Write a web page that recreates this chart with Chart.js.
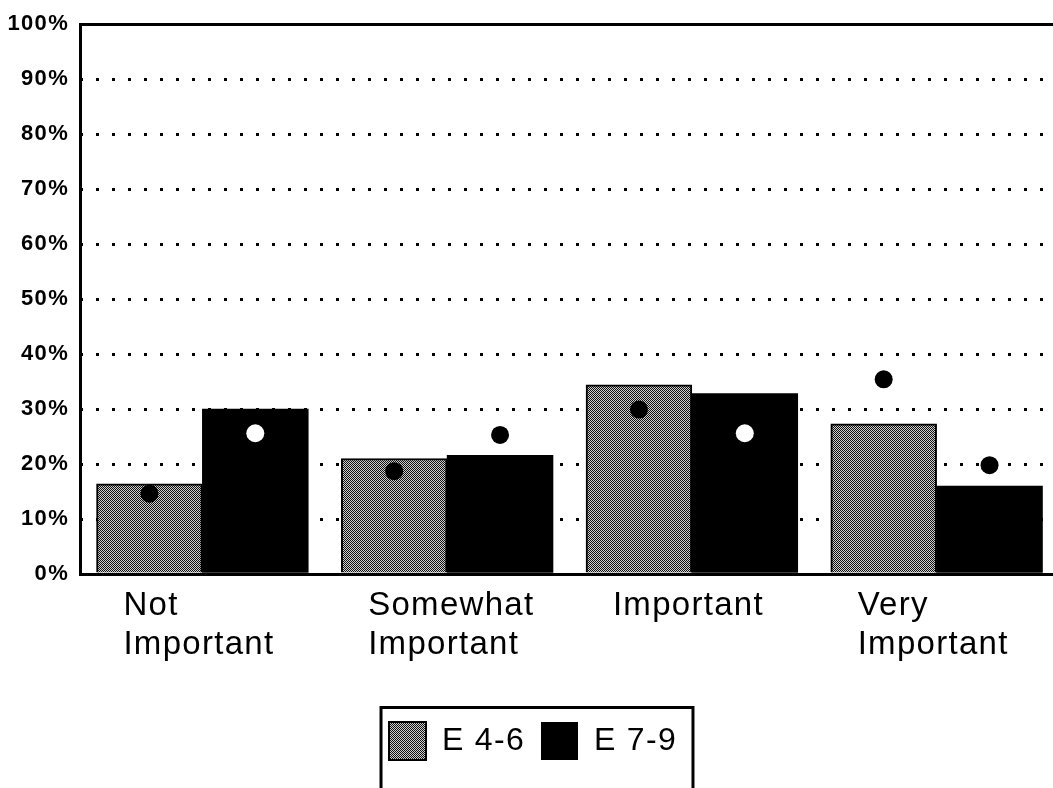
<!DOCTYPE html>
<html>
<head>
<meta charset="utf-8">
<script src="https://cdn.jsdelivr.net/npm/chart.js@4/dist/chart.umd.min.js"></script>
<style>
  html, body { margin: 0; padding: 0; background: #fff; overflow: hidden; }
  #wrap { position: relative; width: 1068px; height: 788px; }
</style>
</head>
<body>
<div id="wrap"><canvas id="chart"></canvas></div>
<script>
const categories = [['Not', 'Important'], ['Somewhat', 'Important'], 'Important', ['Very', 'Important']];
const seriesNames = ['E 4-6', 'E 7-9'];
const e46Bars = [16.4, 21.0, 34.4, 27.3];
const e79Bars = [30.0, 21.6, 32.8, 16.0];
const e46Dots = [14.6, 18.7, 29.9, 35.4];
const e79Dots = [25.6, 25.3, 25.6, 19.8];
const yTicks = [0, 10, 20, 30, 40, 50, 60, 70, 80, 90, 100];

const catPct = 0.865;
const FONT = '"Liberation Sans", Arial, Helvetica, sans-serif';

// halftone-ish fill for the grey series
function makeDither() {
  const c = document.createElement('canvas');
  c.width = 2; c.height = 2;
  const g = c.getContext('2d');
  g.fillStyle = '#cfcfcf';
  g.fillRect(0, 0, 2, 2);
  g.fillStyle = '#111';
  g.fillRect(0, 0, 1, 1);
  g.fillRect(1, 1, 1, 1);
  return g.createPattern(c, 'repeat');
}
const dither = makeDither();

// both series share one numeric x axis: each bar (and its dot) sits
// a quarter of the group width either side of the category index
const slotX = (i, side) => i + side * catPct / 4;
const toPts = (vals, side) => vals.map((v, i) => ({ x: slotX(i, side), y: v }));
const e79DotColors = e79Dots.map((v, i) => (v < e79Bars[i] ? '#fff' : '#000'));

const spacing = {
  id: 'spacing',
  beforeLayout(chart) { chart.ctx.letterSpacing = '1.3px'; },
  beforeDraw(chart) { chart.ctx.letterSpacing = '1.3px'; }
};

const legendFrame = {
  id: 'legendFrame',
  afterDraw(chart) {
    const lg = chart.legend;
    const boxes = lg.legendHitBoxes || [];
    if (!boxes.length) return;
    const first = boxes[0];
    const last = boxes[boxes.length - 1];
    const left = first.left - 8;
    const right = last.left + last.width + 16;
    const ctx = chart.ctx;
    ctx.save();
    ctx.lineWidth = 3;
    ctx.strokeStyle = '#000';
    ctx.strokeRect(left, lg.top + 1.5, right - left, chart.height);
    ctx.restore();
  }
};

new Chart(document.getElementById('chart'), {
  type: 'bar',
  data: {
    labels: categories,
    datasets: [
      {
        label: seriesNames[0],
        data: toPts(e46Bars, -1),
        xAxisID: 'xd',
        grouped: false,
        backgroundColor: dither,
        borderColor: '#000',
        borderWidth: 2,
        categoryPercentage: 1,
        barPercentage: 1,
        order: 2
      },
      {
        label: seriesNames[1],
        data: toPts(e79Bars, 1),
        xAxisID: 'xd',
        grouped: false,
        backgroundColor: '#000',
        borderColor: '#000',
        borderWidth: 0,
        categoryPercentage: 1,
        barPercentage: 1,
        order: 2
      },
      {
        type: 'scatter',
        label: 'E 4-6 mean',
        data: toPts(e46Dots, -1),
        xAxisID: 'xd',
        pointRadius: 9,
        pointBorderWidth: 0,
        pointBackgroundColor: '#000',
        order: 0
      },
      {
        type: 'scatter',
        label: 'E 7-9 mean',
        data: toPts(e79Dots, 1),
        xAxisID: 'xd',
        pointRadius: 9,
        pointBorderWidth: 0,
        pointBackgroundColor: e79DotColors,
        order: 0
      }
    ]
  },
  options: {
    responsive: true,
    maintainAspectRatio: false,
    animation: false,
    layout: { padding: { top: 20, right: 2, bottom: 18, left: 0 } },
    plugins: {
      tooltip: { enabled: false },
      legend: {
        position: 'bottom',
        labels: {
          filter: item => item.datasetIndex < 2,
          color: '#000',
          font: { family: FONT, size: 32 },
          boxWidth: 37,
          boxHeight: 38,
          padding: 16
        }
      }
    },
    scales: {
      x: {
        type: 'category',
        offset: true,
        grid: { display: false, drawTicks: false },
        border: { display: true, color: '#000', width: 3 },
        ticks: {
          color: '#000',
          font: { family: FONT, size: 33, lineHeight: 1.18 },
          align: 'start',
          labelOffset: -79,
          padding: 12,
          maxRotation: 0,
          autoSkip: false
        },
        afterFit(s) { s.paddingLeft = 0; s.paddingRight = 0; s.height = 132; }
      },
      xd: {
        type: 'linear',
        display: false,
        offset: false,
        grid: { offset: false },
        min: -0.5,
        max: 3.5,
        ticks: { stepSize: 1 },
        afterFit(s) { s.paddingLeft = 0; s.paddingRight = 0; }
      },
      y: {
        min: 0,
        max: 100,
        stacked: false,
        afterBuildTicks(s) { s.ticks = yTicks.map(v => ({ value: v })); },
        grid: {
          color: c => (c.tick && c.tick.value === 0 ? 'rgba(0,0,0,0)' : '#000'),
          lineWidth: 3,
          drawTicks: false
        },
        border: {
          display: true,
          color: '#000',
          width: 3,
          dash: c => (c.tick && c.tick.value === 100 ? [] : [3, 13]),
          dashOffset: 2
        },
        ticks: {
          color: '#000',
          font: { family: FONT, size: 22, weight: 'bold' },
          padding: 11,
          callback: v => v + '%'
        },
        afterFit(s) { s.width = 80; }
      }
    }
  },
  plugins: [spacing, legendFrame]
});
</script>
</body>
</html>
